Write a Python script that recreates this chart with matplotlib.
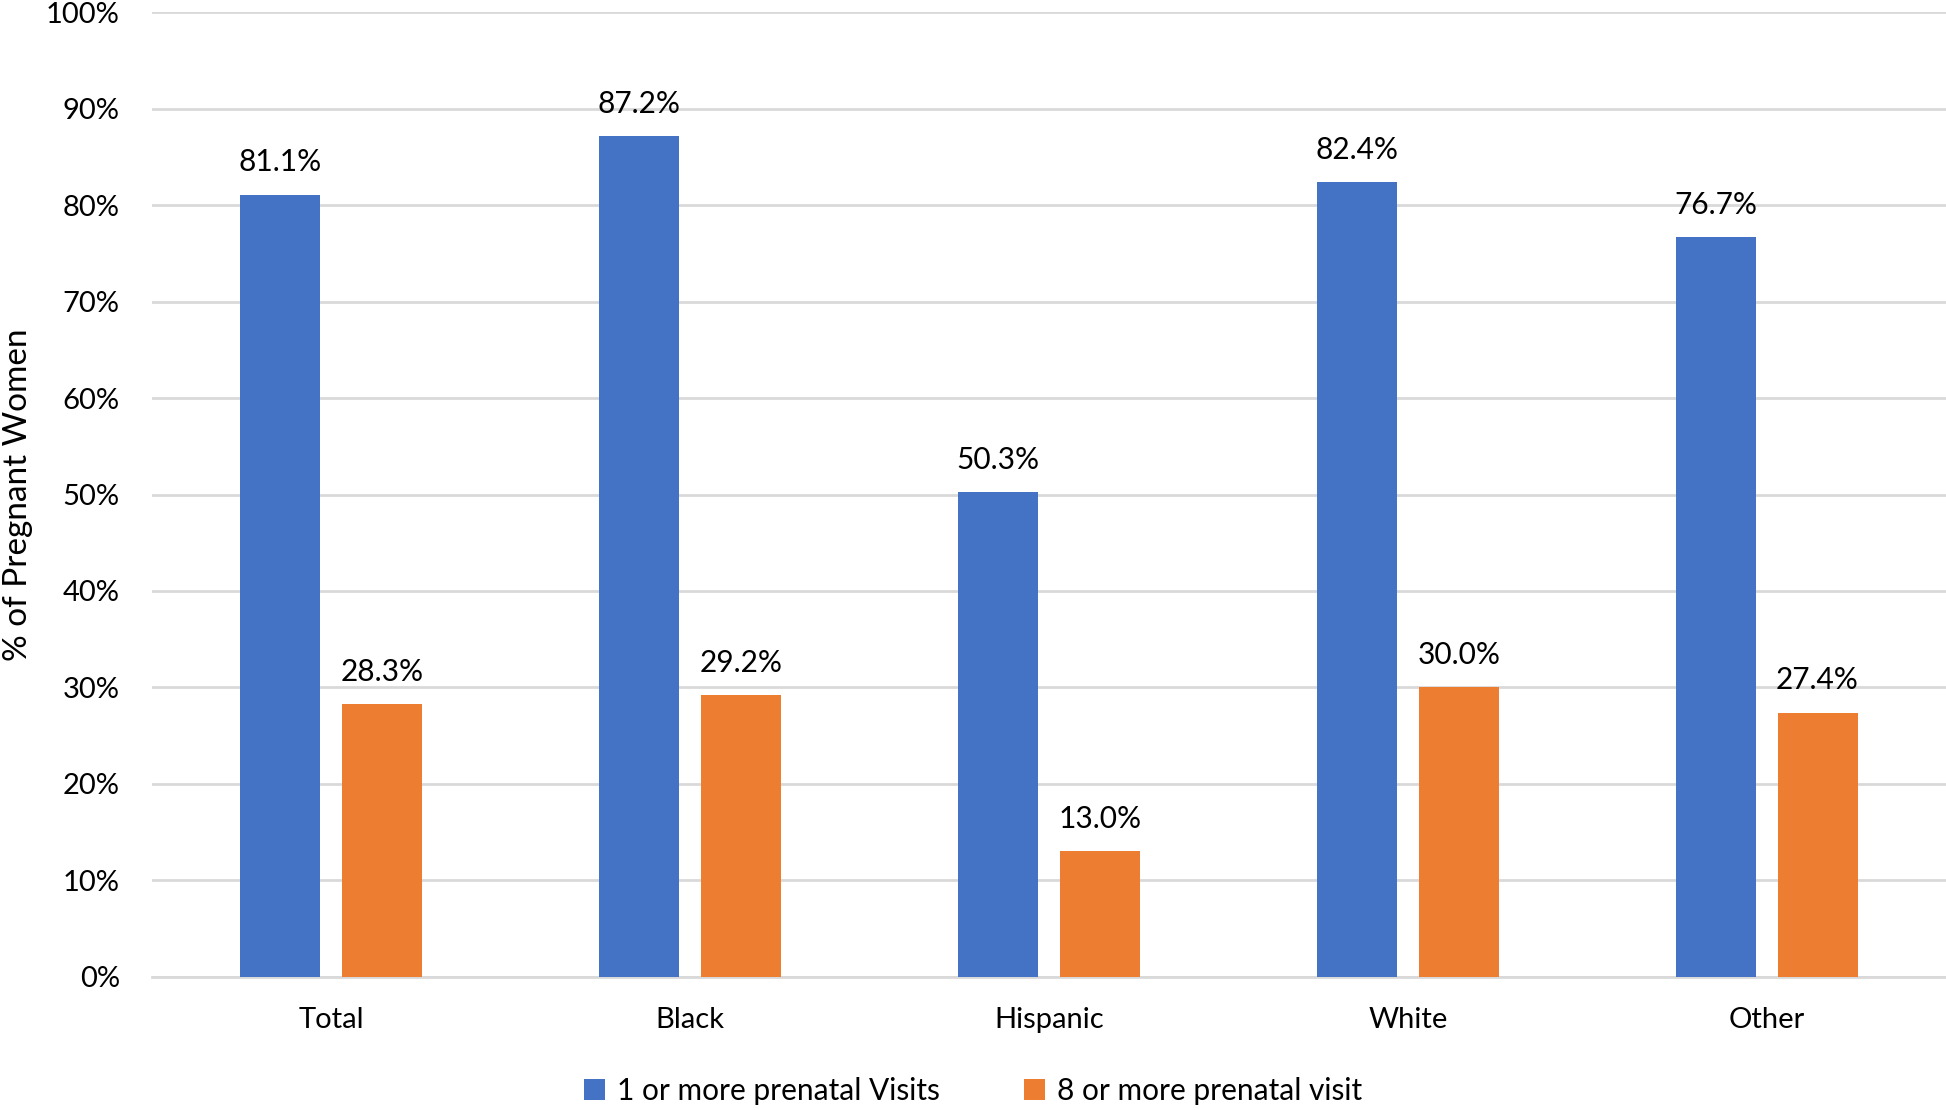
import numpy as np
import matplotlib
matplotlib.use("Agg")
import matplotlib.pyplot as plt

categories = ["Total", "Black", "Hispanic", "White", "Other"]
one_or_more = [81.1, 87.2, 50.3, 82.4, 76.7]
eight_or_more = [28.3, 29.2, 13.0, 30.0, 27.4]
series_names = ["1 or more prenatal Visits", "8 or more prenatal visit"]

BLUE = "#4472C4"
ORANGE = "#ED7D31"
GRID = "#D9D9D9"

plt.rcParams["font.family"] = ["Lato", "DejaVu Sans"]

fig = plt.figure(figsize=(19.46, 11.10), dpi=100)
ax = fig.add_axes([0.078, 0.12, 0.922, 0.869])

x = np.arange(len(categories))
width = 0.223
offset = 0.142

bars1 = ax.bar(x - offset, one_or_more, width, color=BLUE, label=series_names[0], zorder=3)
bars2 = ax.bar(x + offset, eight_or_more, width, color=ORANGE, label=series_names[1], zorder=3)

for bars, vals in [(bars1, one_or_more), (bars2, eight_or_more)]:
    for b, v in zip(bars, vals):
        ax.annotate(f"{v:.1f}%", (b.get_x() + b.get_width() / 2, v),
                    xytext=(0, 13), textcoords="offset points",
                    ha="center", va="bottom", fontsize=21.5)

ax.set_xlim(-0.5, len(categories) - 0.5)
ax.set_ylim(0, 100)
ax.set_yticks(np.arange(0, 101, 10))
ax.set_yticklabels([f"{t}%" for t in range(0, 101, 10)])
ax.set_xticks(x)
ax.set_xticklabels(categories)
ax.tick_params(axis="both", length=0, labelsize=21)
ax.tick_params(axis="y", pad=23)
ax.tick_params(axis="x", pad=22)

ax.grid(axis="y", color=GRID, linewidth=2, zorder=0)
for s in ["top", "right", "left"]:
    ax.spines[s].set_visible(False)
ax.spines["bottom"].set_color(GRID)
ax.spines["bottom"].set_linewidth(2)

ax.set_ylabel("% of Pregnant Women", fontsize=24)
ax.yaxis.set_label_coords(-0.066, 0.5)

fig.legend(loc="lower center", bbox_to_anchor=(0.5, -0.02), ncol=2, frameon=False,
           fontsize=21.5, handlelength=0.7, handleheight=0.7, handletextpad=0.4,
           columnspacing=2.8)

fig.savefig("out.png", dpi=100)
